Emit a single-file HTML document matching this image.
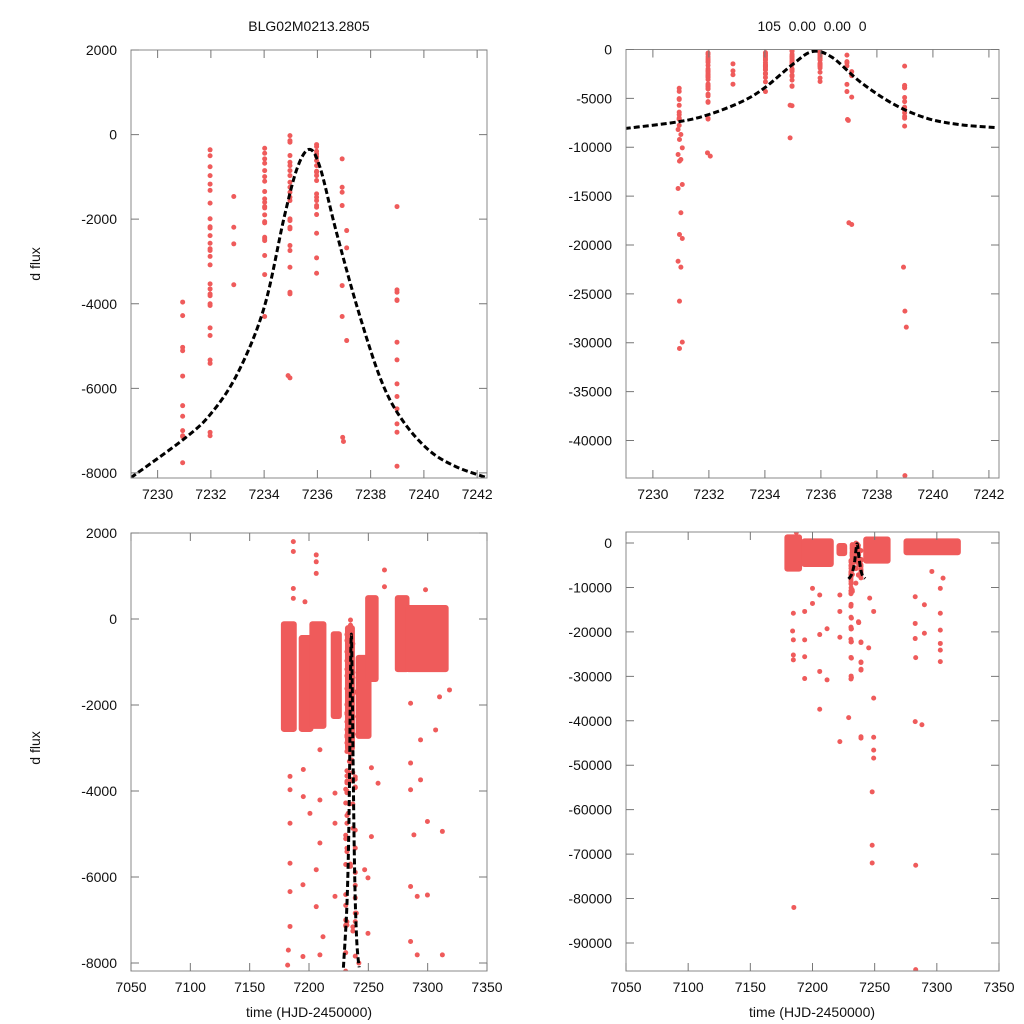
<!DOCTYPE html>
<html><head><meta charset="utf-8">
<style>
html,body{margin:0;padding:0;background:#fff;width:1024px;height:1024px;overflow:hidden;}
svg{display:block;font-family:"Liberation Sans",Arial,sans-serif;}
</style></head>
<body>
<svg id="chart" width="1024" height="1024" viewBox="0 0 1024 1024">
  <rect width="1024" height="1024" fill="#fff"/>
  <text x="309" y="31" font-size="14" text-anchor="middle" fill="#111">BLG02M0213.2805</text>
  <text x="812" y="31" font-size="14" text-anchor="middle" fill="#111" xml:space="preserve">105  0.00  0.00  0</text>
  <text transform="translate(40,264) rotate(-90)" font-size="14" text-anchor="middle" fill="#111">d flux</text>
  <text transform="translate(40,748) rotate(-90)" font-size="14" text-anchor="middle" fill="#111">d flux</text>
  <text x="309" y="1017" font-size="14" text-anchor="middle" fill="#111">time (HJD-2450000)</text>
  <text x="812" y="1017" font-size="14" text-anchor="middle" fill="#111">time (HJD-2450000)</text>
</svg>
<script>
// ---- data: zoomed window observations (time, flux)
const zoomTimes = [
7230.94,7230.94,7230.94,7230.94,7230.94,7230.94,7230.94,7230.94,7230.94,7230.94,7230.94,
7231.97,7231.97,7231.97,7231.97,7231.97,7231.97,7231.97,7231.97,7231.97,7231.97,7231.97,7231.97,7231.97,7231.97,7231.97,7231.97,7231.97,7231.97,7231.97,7231.97,7231.97,7231.97,7231.97,7231.97,7231.97,7231.97,7231.97,7231.97,
7232.86,7232.86,7232.86,7232.86,
7234.02,7234.02,7234.02,7234.02,7234.02,7234.02,7234.02,7234.02,7234.02,7234.02,7234.02,7234.02,7234.02,7234.02,7234.02,7234.02,7234.02,7234.02,7234.02,7234.02,7234.02,
7234.97,7234.97,7234.97,7234.97,7234.97,7234.97,7234.97,7234.97,7234.97,7234.97,7234.97,7234.97,7234.97,7234.97,7234.97,7234.97,7234.97,7234.97,7234.97,7234.97,7234.97,7234.97,7234.97,
7235.97,7235.97,7235.97,7235.97,7235.97,7235.97,7235.97,7235.97,7235.97,7235.97,7235.97,7235.97,7235.97,7235.97,7235.97,7235.97,7235.97,7235.97,7235.97,7235.97,
7236.93,7236.93,7236.93,7236.93,7237.1,7237.1,7236.93,7236.93,7237.1,7236.98,
7238.99,7238.99,7238.99,7238.99,7238.99,7238.99,7238.99,7238.99,7238.99,7238.99,7238.99,7238.99,7238.99,
7230.9,7231.0,7230.95,7231.05,7230.9,7231.0,7230.95,7231.05,7230.9,7231.0,7230.95,7231.05,7230.9,7231.0,7230.95,7231.05,7230.95,
7231.95,7232.05,7234.9,7234.9,7236.95,7237.0,7237.1,7238.95,7239.0,7239.05,7239.0];
const zoomFlux = [
-3960,-4280,-5030,-5110,-5710,-6410,-6660,-7000,-7120,-7140,-7760,
-360,-500,-760,-970,-1170,-1320,-1620,-1990,-2180,-2210,-2390,-2570,-2700,-2740,-2880,-3080,-3530,-3650,-3770,-3810,-4000,-4040,-4570,-4750,-5330,-5410,-7040,-7120,
-1465,-2190,-2585,-3550,
-323,-441,-575,-678,-851,-993,-1103,-1347,-1521,-1600,-1702,-1734,-1899,-2057,-2088,-2427,-2466,-2506,-2860,-3310,-4302,
-24,-142,-181,-496,-654,-733,-851,-969,-1127,-1245,-1363,-1481,-1560,-1994,-2033,-2191,-2230,-2624,-2742,-3136,-3727,-3767,-5752,
-236,-284,-394,-457,-520,-615,-733,-867,-890,-969,-1087,-1403,-1481,-1560,-1678,-1718,-1891,-2332,-2916,-3278,
-575,-1245,-1363,-1678,-2269,-2679,-3570,-4302,-4870,-7257,
-1702,-3672,-3727,-3908,-3924,-4909,-5327,-5894,-6194,-6485,-6840,-7037,-7841,
-8190,-8700,-9210,-10060,-10740,-11250,-11420,-13810,-14220,-16700,-18930,-19340,-21660,-22270,-25750,-29940,-30590,
-10570,-10910,-5700,-9040,-7160,-17730,-17900,-22270,-26770,-28410,-43600];

// ---- data: full season dense clusters (time start, time end, flux high, flux low)
const bandT0 = [7178,7193,7202,7220,7232,7241,7249,7274,7283];
const bandT1 = [7188,7202,7213,7226,7237,7251,7257,7283,7316];
const bandHiL = [-100,-420,-100,-330,-190,-880,510,510,280];
const bandLoL = [-2580,-2580,-2510,-2280,-3030,-2740,-1420,-1190,-1190];
const bandT0R = [7179,7192.7,7220.9,7242.4,7274.8];
const bandT1R = [7190,7215.5,7226.3,7261.2,7317.7];
const bandHiR = [1500,600,-450,1000,600];
const bandLoR = [-6000,-4950,-2500,-4200,-2300];

// ---- data: full season sparse points (left scale)
const fullTimesL = [7186.8,7186.8,7206.1,7206.1,7206.1,7186.8,7186.8,7196.6,7263.6,7263.6,7298.2,7310,7318.4,7285.6,7294,7306.7,7285.6,7294,7285.6,7184,7195.2,7209.2,7200.8,7184,7299.8,7312.4,7288.4,7209.2,7184,7206.1,7194.9,7184,7221.9,7285.6,7291.2,7299.8,7206.1,7184,7211.8,7249.7,7285.6,7182.6,7194.9,7209.2,7291.2,7312.4,7246.9,7249.7,7239.9,7233,7252.6,7258.2,7252.6,7236.1,7209.2,7195.2,7184,7221.9,7221.9,7182,7242];
const fullFluxL = [1800,1570,1490,1330,1060,710,480,400,1140,750,680,-1810,-1650,-1960,-2810,-2580,-3350,-3740,-3970,-3970,-4130,-4210,-4520,-4750,-4710,-4940,-5020,-5210,-5680,-5830,-6180,-6340,-6450,-6220,-6450,-6420,-6690,-7150,-7390,-7310,-7500,-7700,-7850,-7810,-7810,-7810,-5830,-6020,-6840,-4520,-5060,-3820,-3460,-3350,-3040,-3500,-3660,-4050,-4750,-8050,-8000];

// ---- data: full season sparse points (right scale)
const fullTimesR = [7184.6,7184,7184.6,7184.6,7184.6,7193.7,7193.7,7193.7,7193.7,7200,7200,7205.8,7205.8,7211.7,7205.8,7211.7,7205.8,7222,7222,7222,7231.3,7231.3,7231.3,7231.3,7231.3,7231.3,7229.1,7222,7237.2,7239,7239,7239,7245.2,7246,7249.2,7249.2,7239,7249.2,7249.2,7249.2,7282.6,7282.6,7282.6,7283,7290,7290,7282.6,7288,7302.8,7302.8,7302.8,7302.8,7302.8,7302.8,7296,7305,7248,7248,7248,7185,7283,7283,7187];
const fullFluxR = [-15800,-19800,-21800,-25200,-26300,-15400,-21800,-25600,-30500,-10200,-13600,-11700,-20600,-19300,-28900,-30800,-37400,-11700,-15400,-21200,-10900,-16900,-19300,-22200,-25900,-30300,-39300,-44700,-17900,-22400,-26900,-28600,-23600,-12400,-15400,-34900,-43900,-43700,-46600,-48400,-12100,-18100,-21500,-25800,-13900,-20300,-40200,-40900,-10200,-15800,-19600,-22600,-24100,-26700,-6400,-7900,-56000,-68000,-72000,-82000,-72500,-96000,2400];

// ---- data: fitted model curves
const modelTimesL = [7229,7231,7232,7233,7234,7234.75,7235.25,7235.7,7236.1,7236.7,7237.5,7238.4,7239.2,7240.2,7241.2,7242.3];
const modelFluxL = [-8110,-7190,-6600,-5650,-4090,-1960,-780,-350,-780,-2270,-4090,-5820,-6760,-7470,-7850,-8100];
const modelTimesR = [7229,7230.9,7232,7233.2,7234,7235,7235.7,7236.4,7237.4,7238.6,7239.8,7241,7242.3];
const modelFluxR = [-8080,-7400,-6650,-5300,-3900,-1500,-200,-800,-3300,-5600,-7050,-7700,-8000];

// ---- tick labels
const ticksZoomX = [7230,7232,7234,7236,7238,7240,7242];
const ticksFullX = [7050,7100,7150,7200,7250,7300,7350];
const ticksYTL = [2000,0,-2000,-4000,-6000,-8000];
const ticksYTR = [0,-5000,-10000,-15000,-20000,-25000,-30000,-35000,-40000];
const ticksYBL = [2000,0,-2000,-4000,-6000,-8000];
const ticksYBR = [0,-10000,-20000,-30000,-40000,-50000,-60000,-70000,-80000,-90000];

const NS = 'http://www.w3.org/2000/svg';
const svg = document.getElementById('chart');
const RED = '#ef5b5b';
function mk(tag, attrs, parent){
  const e = document.createElementNS(NS, tag);
  for (const k in attrs) e.setAttribute(k, attrs[k]);
  (parent||svg).appendChild(e);
  return e;
}
function panel(id, x0, x1, y0, y1, tmin, tmax, fmax, fmin){
  const sx = t => x0 + (t - tmin) / (tmax - tmin) * (x1 - x0);
  const sy = f => y0 + (fmax - f) / (fmax - fmin) * (y1 - y0);
  const defs = mk('defs', {});
  const cp = mk('clipPath', {id: 'clip-' + id}, defs);
  mk('rect', {x: x0, y: y0, width: x1 - x0, height: y1 - y0}, cp);
  const g = mk('g', {'clip-path': 'url(#clip-' + id + ')'});
  
  
  return {sx, sy, g, x0, x1, y0, y1, id};
}
function axes(p, xt, yt){
  const frame = mk('rect', {x: p.x0, y: p.y0, width: p.x1 - p.x0, height: p.y1 - p.y0, fill: 'none', stroke: '#888', 'stroke-width': 1});
  
  
  xt.forEach(v => {
    const x = p.sx(v);
    const l = mk('path', {d: `M${x},${p.y1}v-8M${x},${p.y0}v8`, stroke: '#777', 'stroke-width': 1});
    
    
    const t = mk('text', {x: x, y: p.y1 + 21, 'font-size': 14, 'text-anchor': 'middle', fill: '#111'});
    t.textContent = v;
    
    
  });
  yt.forEach(v => {
    const y = p.sy(v);
    const l = mk('path', {d: `M${p.x0},${y}h8M${p.x1},${y}h-8`, stroke: '#777', 'stroke-width': 1});
    
    
    const t = mk('text', {x: p.x0 - 14, y: y + 5, 'font-size': 14, 'text-anchor': 'end', fill: '#111'});
    t.textContent = v;
    
    
  });
}
function points(p, ts, fs){
  ts.forEach((t, i) => {
    const c = mk('circle', {cx: p.sx(t), cy: p.sy(fs[i]), r: 2.5, fill: RED}, p.g);
    
    
  });
}
function bands(p, t0, t1, hi, lo){
  t0.forEach((t, i) => {
    const x = p.sx(t), w = p.sx(t1[i]) - x;
    const y = p.sy(hi[i]), h = p.sy(lo[i]) - y;
    const r = mk('rect', {x: x - 2, y: y - 2, width: w + 4, height: h + 4, rx: 3, fill: RED}, p.g);
    
    
  });
}
function model(p, ts, fs){
  const P = ts.map((t, i) => [p.sx(t), p.sy(fs[i])]);
  let d = 'M' + P[0][0].toFixed(1) + ',' + P[0][1].toFixed(1);
  for (let i = 0; i < P.length - 1; i++) {
    const p0 = P[Math.max(0, i - 1)], p1 = P[i], p2 = P[i + 1], p3 = P[Math.min(P.length - 1, i + 2)];
    const c1 = [p1[0] + (p2[0] - p0[0]) / 6, p1[1] + (p2[1] - p0[1]) / 6];
    const c2 = [p2[0] - (p3[0] - p1[0]) / 6, p2[1] - (p3[1] - p1[1]) / 6];
    d += 'C' + c1.map(v => v.toFixed(1)).join(',') + ' ' + c2.map(v => v.toFixed(1)).join(',') + ' ' + p2.map(v => v.toFixed(1)).join(',');
  }
  const l = mk('path', {d, fill: 'none', stroke: '#000', 'stroke-width': 3, 'stroke-dasharray': '6,3'}, p.g);
  
  
}

const tl = panel('top-left', 131, 487, 50, 478, 7229.0, 7242.37, 2000, -8120);
points(tl, zoomTimes, zoomFlux);
model(tl, modelTimesL, modelFluxL);
axes(tl, ticksZoomX, ticksYTL);

const tr = panel('top-right', 626, 999, 49.5, 478, 7229.04, 7242.36, 0, -43840);
points(tr, zoomTimes, zoomFlux);
model(tr, modelTimesR, modelFluxR);
axes(tr, ticksZoomX, ticksYTR);

const bl = panel('bottom-left', 131, 487, 533, 971, 7050, 7350, 2000, -8186);
bands(bl, bandT0, bandT1, bandHiL, bandLoL);
points(bl, fullTimesL, fullFluxL);
points(bl, zoomTimes, zoomFlux);
model(bl, modelTimesL, modelFluxL);
axes(bl, ticksFullX, ticksYBL);

const br = panel('bottom-right', 626, 999, 532, 971, 7050, 7350, 2475, -96300);
bands(br, bandT0R, bandT1R, bandHiR, bandLoR);
points(br, fullTimesR, fullFluxR);
points(br, zoomTimes, zoomFlux);
model(br, modelTimesR, modelFluxR);
axes(br, ticksFullX, ticksYBR);
</script>
</body></html>
